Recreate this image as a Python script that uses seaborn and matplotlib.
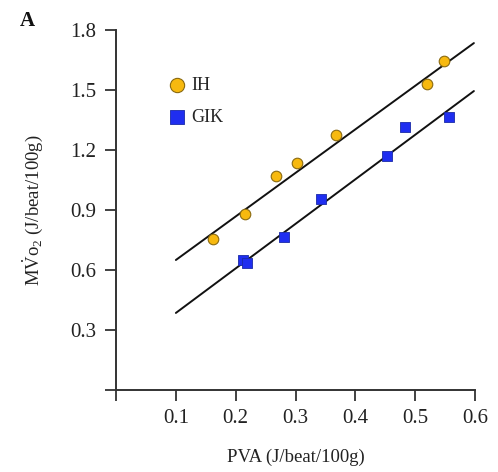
import numpy as np
import pandas as pd
import matplotlib
matplotlib.use("Agg")
import matplotlib.pyplot as plt
import seaborn as sns

# ---- data ----
ih_x = [0.162, 0.215, 0.268, 0.303, 0.368, 0.520, 0.548]
ih_y = [0.755, 0.880, 1.070, 1.135, 1.275, 1.530, 1.645]
gik_x = [0.212, 0.219, 0.280, 0.343, 0.452, 0.483, 0.557]
gik_y = [0.650, 0.636, 0.765, 0.955, 1.170, 1.315, 1.365]
# regression lines (intercept, slope) as drawn in the figure
ih_fit = (0.432, 2.18)
gik_fit = (0.162, 2.23)
fit_range = [0.1, 0.598]
x_ticks = [0, 0.1, 0.2, 0.3, 0.4, 0.5, 0.6]
x_ticklabels = ["", "0.1", "0.2", "0.3", "0.4", "0.5", "0.6"]
y_ticks = [0, 0.3, 0.6, 0.9, 1.2, 1.5, 1.8]
y_ticklabels = ["", "0.3", "0.6", "0.9", "1.2", "1.5", "1.8"]

sns.set_style("ticks")
plt.rcParams["font.family"] = ["Liberation Serif", "DejaVu Serif"]
plt.rcParams["mathtext.fontset"] = "custom"
plt.rcParams["mathtext.rm"] = "Liberation Serif"
plt.rcParams["mathtext.it"] = "Liberation Serif:italic"

df = pd.DataFrame({
    "PVA": ih_x + gik_x,
    "MVO2": ih_y + gik_y,
    "group": ["IH"] * len(ih_x) + ["GIK"] * len(gik_x),
})

fig = plt.figure(figsize=(4.98, 4.72), dpi=100)
ax = fig.add_axes([0.233, 0.174, 0.721, 0.762])

axis_col = "#333333"
for (b0, b1) in (ih_fit, gik_fit):
    xs = np.array(fit_range)
    ax.plot(xs, b0 + b1 * xs, color="#111111", lw=1.4, zorder=2)

sns.scatterplot(data=df[df.group == "IH"], x="PVA", y="MVO2", ax=ax,
                marker="o", s=58, color="#F7B90F", edgecolor="#8a6a10",
                linewidth=0.8, label="IH", zorder=3)
sns.scatterplot(data=df[df.group == "GIK"], x="PVA", y="MVO2", ax=ax,
                marker="s", s=58, color="#1F2EF0", edgecolor="#1a2aa8",
                linewidth=0.6, label="GIK", zorder=3)

ax.set_xlim(0, 0.6)
ax.set_ylim(0, 1.8)
ax.set_xticks(x_ticks)
ax.set_xticklabels(x_ticklabels)
ax.set_yticks(y_ticks)
ax.set_yticklabels(y_ticklabels)
ax.tick_params(axis="both", direction="out", length=8, width=1.3,
               colors=axis_col, labelsize=15, pad=6)
ax.tick_params(axis="both", labelcolor="#222222")
for s in ("top", "right"):
    ax.spines[s].set_visible(False)
for s in ("left", "bottom"):
    ax.spines[s].set_linewidth(1.4)
    ax.spines[s].set_color(axis_col)

ax.set_xlabel("PVA (J/beat/100g)", fontsize=13.5, color="#222222", labelpad=15)
ax.set_ylabel(r"M$\dot{\mathrm{V}}$o$_2$ (J/beat/100g)", fontsize=13.5,
              color="#222222", labelpad=18)

leg = ax.legend(loc="upper left", bbox_to_anchor=(0.12, 0.891), frameon=False,
                fontsize=13, handlelength=1.2, handletextpad=0.2,
                labelspacing=0.83, markerscale=1.35, borderaxespad=0)

fig.text(0.04, 0.955, "A", fontsize=15, fontweight="bold", color="#111111",
         ha="left", va="center")

fig.savefig("out.png", dpi=100)
